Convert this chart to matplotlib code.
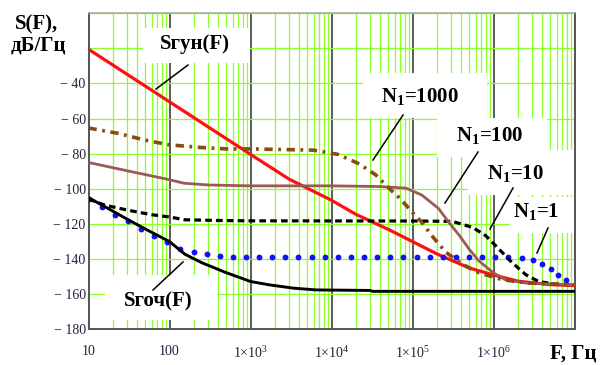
import numpy as np
import matplotlib
matplotlib.use("Agg")
import matplotlib.pyplot as plt
from matplotlib.patches import Rectangle

plt.rcParams['font.family'] = ['Liberation Serif', 'DejaVu Serif']
plt.rcParams['mathtext.default'] = 'regular'
plt.rcParams['lines.scale_dashes'] = False

# S_gun(F) - red
f_gun = [10, 100, 1e3, 3e3, 1e4, 2e4, 5e4, 1e5, 2e5, 5e5, 1e6, 2e6, 5e6, 1e7]
s_gun = [-20.6, -50.5, -80.4, -94.5, -106.5, -114.5, -123, -130, -137, -145,
         -149, -152.5, -154.5, -155]

# N1 = 1000 - brown dash-dot
f_1000 = [10, 23, 50, 100, 250, 500, 1e3, 3e3, 6e3, 1.2e4, 2.2e4, 3.5e4, 5.5e4,
          7e4, 1e5, 1.3e5, 1.8e5, 2.6e5, 4.2e5, 6.6e5, 1.3e6, 2.7e6, 1e7]
s_1000 = [-65.4, -68.4, -72.3, -75, -76.5, -77.3, -77.3, -77.7, -78, -80.4, -85.8,
          -92, -101, -105.4, -113.5, -119, -127.6, -136.2, -143, -147.8, -151.7,
          -153.6, -154.6]

# N1 = 100 - brown solid
f_100 = [10, 32, 100, 150, 300, 1e3, 1e4, 4e4, 8.3e4, 1.3e5, 2.1e5, 2.8e5, 3.8e5,
         5e5, 6.6e5, 1e6, 1.4e6, 2.5e6, 1e7]
s_100 = [-85, -90, -94.8, -96.8, -97.8, -98.3, -98.3, -98.7, -99.6, -103.5, -111.2,
         -119, -126.6, -134.3, -141, -147.8, -151.7, -153.6, -154.6]

# N1 = 10 - black dashed
f_10 = [10, 16, 31, 60, 100, 155, 400, 1e3, 1e5, 3.1e5, 5.5e5, 8e5, 1.17e6, 1.7e6,
        2.5e6, 3.6e6, 5.8e6, 1e7]
s_10 = [-105.8, -109.3, -112.2, -114.7, -116, -117.6, -118, -118.2, -118.3, -118.5,
        -121.9, -126.6, -134.3, -142, -148.8, -152.7, -154.2, -154.6]

# N1 = 1 - blue dots
f_1 = [10, 14.5, 21.1, 30.6, 44.5, 64.6, 93.8, 136, 198, 287, 417, 605, 879, 1276,
       1854, 2692, 3908, 5675, 8241, 11970, 17380, 25240, 36640, 53210, 77270,
       112200, 162900, 236600, 343600, 498900, 724400, 1052000, 1528000, 2259000,
       3062000, 3981000, 5058000, 6209000, 7852000]
s_1 = [-105.8, -110.6, -114.7, -118.5, -122.6, -126.8, -130.5, -134.2, -135.9,
       -137.3, -138.1, -138.5, -138.5, -138.5, -138.5, -138.5, -138.5, -138.5,
       -138.5, -138.5, -138.5, -138.5, -138.5, -138.5, -138.5, -138.5, -138.5,
       -138.5, -138.5, -138.5, -138.5, -138.5, -138.6, -139.1, -140.5, -143,
       -145.5, -149, -151.7]

# S_goch(F) - black solid
f_goch = [10, 16, 32, 60, 100, 155, 250, 490, 1e3, 1.7e3, 3.4e3, 6.5e3, 3e4, 3.2e4, 1e7]
s_goch = [-105, -110.2, -118, -124.7, -130, -137.2, -142, -147.5, -152.7, -154.6,
          -156.5, -157.5, -157.8, -158.3, -158.3]

x_ticks = [10, 100, 1e3, 1e4, 1e5, 1e6, 1e7]
x_tick_labels = ['10', '100', '1×10$^{3}$', '1×10$^{4}$', '1×10$^{5}$', '1×10$^{6}$', '']
y_ticks = [-180, -160, -140, -120, -100, -80, -60, -40, -20, 0]
y_tick_labels = ['− 180', '− 160', '− 140', '− 120', '− 100', '− 80', '− 60', '− 40', '', '']

fig = plt.figure(figsize=(6, 3.65), dpi=100)
ax = fig.add_axes([0.1475, 0.0973, 0.81, 0.867])
ax.set_xscale('log')
ax.set_xlim(10, 1e7)
ax.set_ylim(-180, 0)

# grid: dark decades, green minors and green horizontals
green = '#8cff2a'
ax.set_axisbelow(True)
ax.set_xticks(x_ticks)
ax.set_xticklabels(x_tick_labels)
ax.set_xticks([m * 10 ** d for d in range(1, 7) for m in range(2, 10)], minor=True)
ax.set_yticks(y_ticks)
ax.set_yticklabels(y_tick_labels)
ax.xaxis.grid(True, which='major', color='#5a5a5a', lw=1.4)
ax.xaxis.grid(True, which='minor', color=green, lw=0.9)
ax.yaxis.grid(True, which='major', color=green, lw=0.9)
ax.tick_params(which='both', length=0)
ax.tick_params(axis='x', pad=11, labelsize=10, labelcolor='#22223a')
ax.tick_params(axis='y', pad=2, labelsize=10, labelcolor='#22223a')
for side in ['left', 'bottom', 'right']:
    ax.spines[side].set_color('#555555')
    ax.spines[side].set_linewidth(1.4)
ax.spines['top'].set_color('#aaaaaa')
ax.spines['top'].set_linewidth(1.2)


def to_ax(x, y):
    # picture pixels -> axes fraction
    return (x - 88.5) / 486.0, (329.5 - y) / 316.5


# white label boxes (cover the grid only)
boxes = [(143, 28, 250, 63), (363, 73, 487, 118), (437, 118, 547, 157),
         (468, 150, 574, 195), (510, 197, 574, 233), (105, 275, 217, 320)]
for x0, y0, x1, y1 in boxes:
    bx, by = to_ax(x0, y1)
    bw = (x1 - x0) / 486.0
    bh = (y1 - y0) / 316.5
    ax.add_patch(Rectangle((bx, by), bw, bh, transform=ax.transAxes,
                           facecolor='white', edgecolor='none', zorder=1))

# curves
ax.plot(f_gun, s_gun, color='#ff1010', lw=2.3, zorder=3)
ax.plot(f_1, s_1, 'o', color='#1010ff', ms=4.2, mew=0, zorder=3)
ax.plot(f_10, s_10, color='black', lw=2.3, dashes=(4.8, 3.0), zorder=3)
ax.plot(f_100, s_100, color='#9a5a55', lw=2.0, zorder=3)
ax.plot(f_1000, s_1000, color='#8b4a10', lw=2.6, dashes=(6, 4, 2, 4), zorder=3)
ax.plot(f_goch, s_goch, color='black', lw=2.1, zorder=3)

# labels with leader lines
labels = [('Sгун(F)', (195, 44), (188, 65), (156, 89)),
          ('N$_1$=1000', (420, 96), (403, 115), (373, 160)),
          ('N$_1$=100', (490, 135), (478, 152), (445, 203)),
          ('N$_1$=10', (515, 173), (513, 188), (490, 229)),
          ('N$_1$=1', (536, 211), (548, 228), (537, 253)),
          ('Sгоч(F)', (158, 301), (153, 290), (183, 262))]
for txt, pos, p0, p1 in labels:
    ax.text(*to_ax(*pos), txt, transform=ax.transAxes, ha='center', va='center',
            fontsize=15, fontweight='bold', zorder=5)
    a0 = to_ax(*p0)
    a1 = to_ax(*p1)
    ax.plot([a0[0], a1[0]], [a0[1], a1[1]], transform=ax.transAxes,
            color='black', lw=1.1, zorder=5)

fig.text(37 / 600, 1 - 24 / 365, 'S(F),', ha='center', va='center',
         fontsize=15, fontweight='bold')
fig.text(38 / 600, 1 - 46 / 365, 'дБ/Гц', ha='center', va='center',
         fontsize=15, fontweight='bold')
fig.text(573 / 600, 1 - 354 / 365, 'F, Гц', ha='center', va='center',
         fontsize=15, fontweight='bold')

fig.savefig('out.png', dpi=100)
